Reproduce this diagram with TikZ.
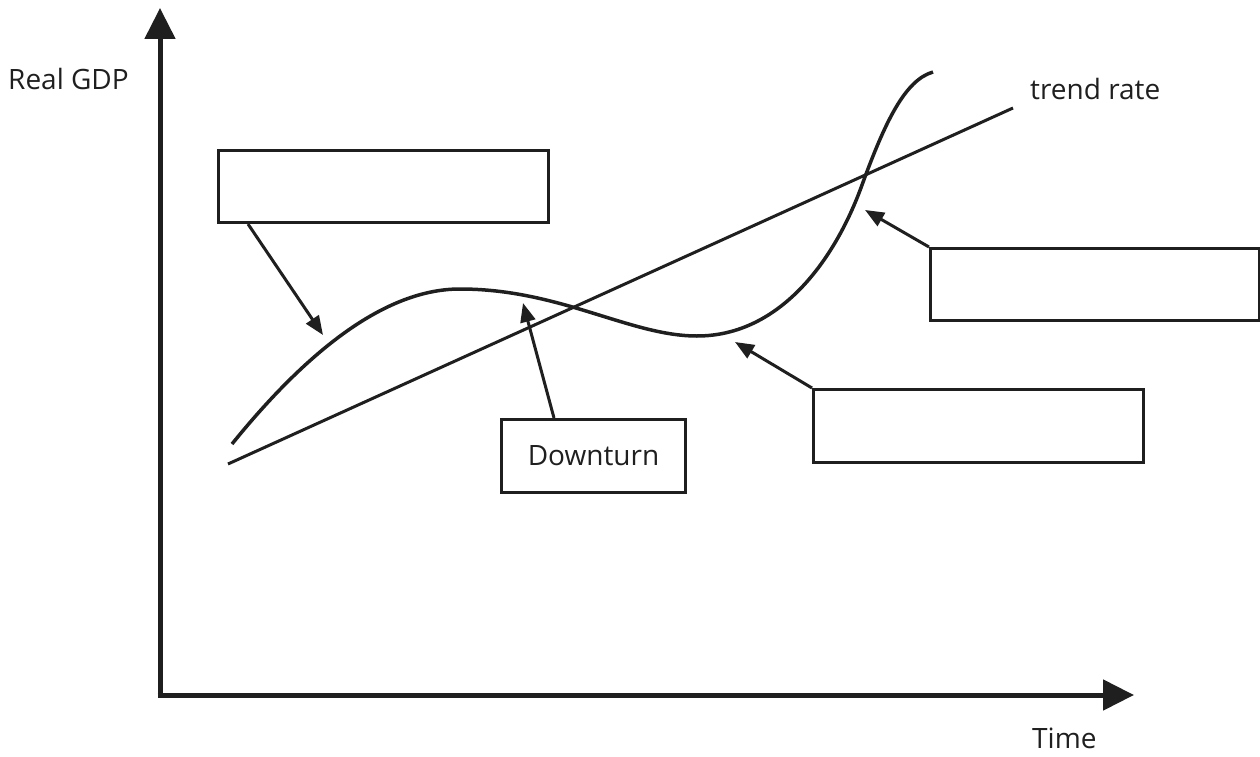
\documentclass[tikz,border=0pt]{standalone}
\usepackage{fontspec}
\setmainfont{Open Sans}
\usetikzlibrary{arrows.meta}
\begin{document}
\begin{tikzpicture}[x=1pt,y=-1pt,
  axis/.style={line width=5pt,-{Triangle[length=31pt,width=30pt]}},
  callout/.style={line width=3pt,-{Triangle[length=19pt,width=15pt]}},
  curve/.style={line width=3.5pt},
  lbox/.style={draw,line width=3pt,minimum width=#1,minimum height=72pt,inner sep=0pt,anchor=north west},
  lbl/.style={font=\fontsize{28}{32}\selectfont,text=black!88,inner sep=0pt}
]
\useasboundingbox (0,0) rectangle (1260,757);
\definecolor{ink}{gray}{0.12}
\begin{scope}[draw=ink,color=ink]
% axes
\coordinate (O) at (160,695);
\coordinate (Ytop) at (160,8);
\coordinate (Xend) at (1134,695);
\draw[axis] ([yshift=2.5pt]O) -- (Ytop);
\draw[axis] ([xshift=-2.5pt]O) -- (Xend);
% labels
\node[lbl,anchor=base west] (ylab) at (8,90) {Real GDP};
\node[lbl,anchor=base west] (xlab) at (1032,748) {Time};
\node[lbl,anchor=base west] (trl) at (1030,100) {trend rate};
% trend line
\coordinate (T1) at (228,464);
\coordinate (T2) at (1013,108);
\draw[curve,line width=3pt] (T1) -- (T2);
% cycle curve
\coordinate (C0) at (232,444);
\coordinate (C1) at (460,289);
\coordinate (C2) at (697,336);
\coordinate (C3) at (862,185);
\coordinate (C4) at (933,72);
\draw[curve] (C0) .. controls (300,360) and (380,289) .. (C1)
  .. controls (560,289) and (630,336) .. (C2)
  .. controls (780,336) and (835,260) .. (C3)
  .. controls (885,122) and (905,80) .. (C4);
% boxes
\node[lbox=330pt] (b1) at (217,149) {};
\node[lbox=184pt,minimum height=73pt] (b2) at (500,418) {};
\node[lbl] (b2t) at (b2.center) {Downturn};
\node[lbox=330pt,minimum height=73pt] (b3) at (812,388) {};
\node[lbox=329pt] (b4) at (929,247) {};
% callout arrows
\coordinate (a1) at (323,335);
\coordinate (a2) at (523,303);
\coordinate (a3) at (735,342);
\coordinate (a4) at (865,210);
\draw[callout] ([xshift=31pt]b1.south west) -- (a1);
\draw[callout] ([xshift=54pt]b2.north west) -- (a2);
\draw[callout] (b3.north west) -- (a3);
\draw[callout] (b4.north west) -- (a4);
\end{scope}
\end{tikzpicture}
\end{document}
